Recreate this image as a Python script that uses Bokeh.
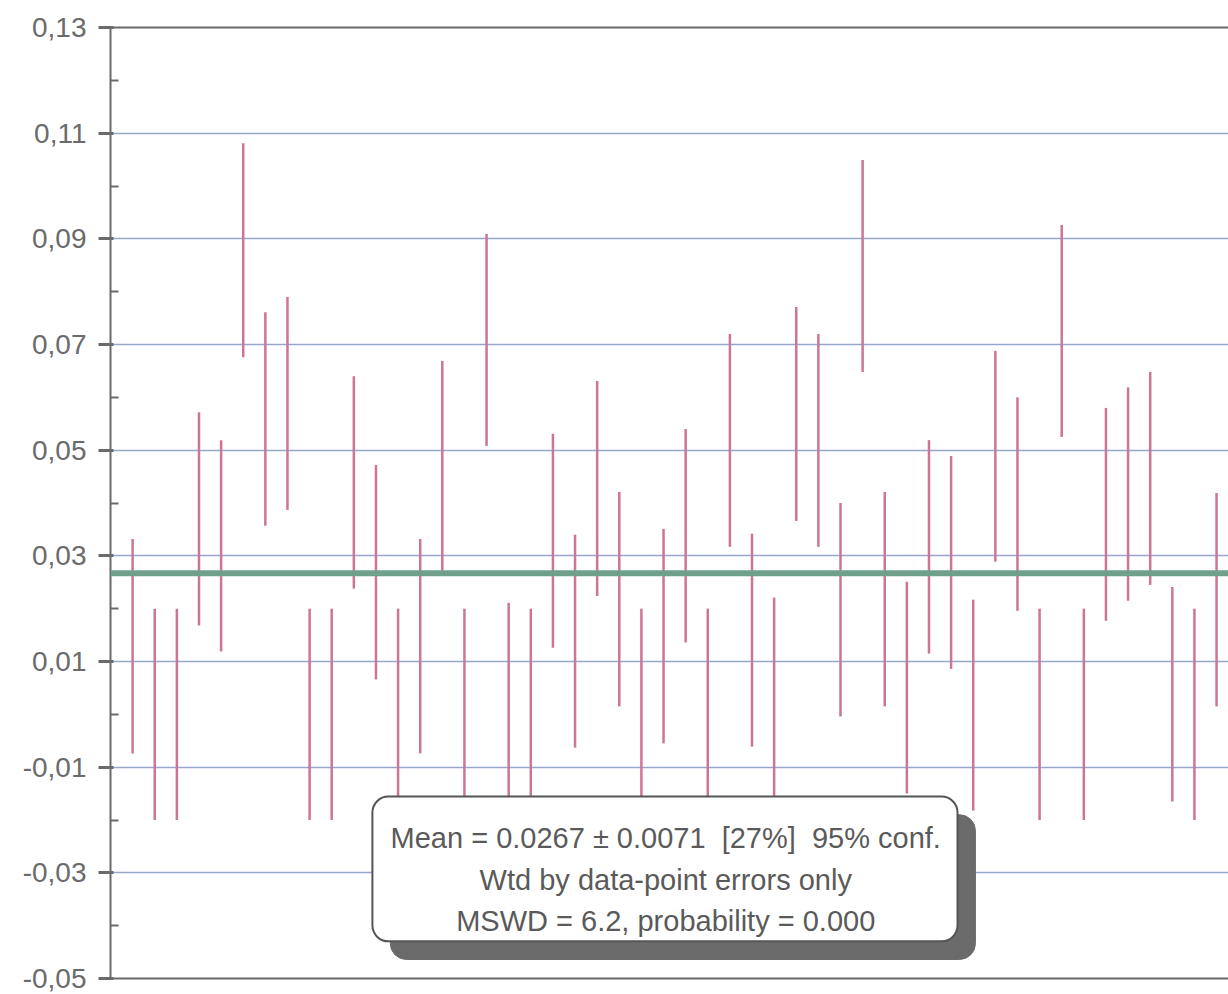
from bokeh.plotting import figure
from bokeh.models import Range1d, FixedTicker, LinearAxis, Span, CustomJSTickFormatter, ColumnDataSource
from bokeh.core.properties import value
from bokeh.embed import file_html
from bokeh.resources import INLINE

# ---- data ----
point_index = list(range(1, 51))
upper = [0.0332, 0.020, 0.020, 0.0572, 0.0519, 0.1081, 0.0761, 0.0790, 0.020, 0.020,
         0.0640, 0.0472, 0.020, 0.0332, 0.0669, 0.020, 0.0909, 0.0211, 0.020, 0.0531,
         0.0340, 0.0631, 0.0421, 0.020, 0.0351, 0.0540, 0.020, 0.0720, 0.0342, 0.0221,
         0.0771, 0.0720, 0.0400, 0.1049, 0.0421, 0.0251, 0.0519, 0.0489, 0.0217, 0.0688,
         0.0600, 0.020, 0.0926, 0.020, 0.0580, 0.0619, 0.0648, 0.0241, 0.020, 0.0419]
lower = [-0.0074, -0.020, -0.020, 0.0168, 0.0119, 0.0676, 0.0357, 0.0387, -0.020, -0.020,
         0.0238, 0.0066, -0.020, -0.0074, 0.0266, -0.020, 0.0508, -0.019, -0.020, 0.0126,
         -0.0063, 0.0224, 0.0015, -0.020, -0.0055, 0.0136, -0.020, 0.0317, -0.0061, -0.018,
         0.0366, 0.0317, -0.0004, 0.0648, 0.0015, -0.015, 0.0115, 0.0086, -0.0182, 0.0289,
         0.0196, -0.020, 0.0525, -0.020, 0.0177, 0.0215, 0.0245, -0.0165, -0.020, 0.0015]
mean_value = 0.0267
y_major_ticks = [-0.05, -0.03, -0.01, 0.01, 0.03, 0.05, 0.07, 0.09, 0.11, 0.13]
y_minor_ticks = [-0.04, -0.02, 0.0, 0.02, 0.04, 0.06, 0.08, 0.10, 0.12]
NB = "\u00a0"
box_lines = ["Mean = 0.0267 \u00b1 0.0071 " + NB + "[27%]" + NB + " 95% conf.",
             "Wtd by data-point errors only",
             "MSWD = 6.2, probability = 0.000"]

FONT = "Liberation Sans"
GRAY = "#5a5a5a"

p = figure(width=1228, height=994, output_backend="svg", toolbar_location=None,
           x_range=Range1d(0, 50.54), y_range=Range1d(-0.05, 0.13),
           min_border_left=110, min_border_right=0, min_border_top=27, min_border_bottom=16,
           background_fill_color="white", border_fill_color="white")
p.outline_line_color = None
p.xgrid.visible = False

# y axis
yax = p.yaxis[0]
yax.ticker = FixedTicker(ticks=y_major_ticks, minor_ticks=y_minor_ticks)
yax.formatter = CustomJSTickFormatter(code="return tick.toFixed(2).replace('.', ',');")
yax.axis_line_color = "#6a6a6a"
yax.axis_line_width = 2
yax.major_tick_line_color = "#6a6a6a"
yax.major_tick_line_width = 3
yax.major_tick_out = 12
yax.major_tick_in = 3
yax.minor_tick_line_color = "#6a6a6a"
yax.minor_tick_line_width = 2
yax.minor_tick_in = 8
yax.minor_tick_out = 0
yax.major_label_text_font = FONT
yax.major_label_text_font_size = "28px"
yax.major_label_text_color = "#6b6b6b"
yax.major_label_standoff = 12

# bottom axis as a plain line
xax = p.xaxis[0]
xax.ticker = FixedTicker(ticks=[])
xax.axis_line_color = "#6a6a6a"
xax.axis_line_width = 2
xax.major_tick_line_color = None
xax.minor_tick_line_color = None

# top border line
top = LinearAxis(ticker=FixedTicker(ticks=[]), axis_line_color="#6a6a6a", axis_line_width=2,
                 major_tick_line_color=None, minor_tick_line_color=None)
p.add_layout(top, "above")

p.ygrid.ticker = FixedTicker(ticks=y_major_ticks)
p.ygrid.grid_line_color = "#96a6cc"
p.ygrid.grid_line_width = 1.3

# error bars
src = ColumnDataSource(dict(x=point_index, lo=lower, hi=upper))
p.segment(x0="x", y0="lo", x1="x", y1="hi", source=src, line_color="#cc7597", line_width=2.5)

# weighted mean line
p.add_layout(Span(location=mean_value, dimension="width", line_color="#6ea08c", line_width=6))

# annotation box with shadow
p.quad(left=12.65, right=39.1, top=-0.0190, bottom=-0.0464, fill_color="#6b6b6b",
       line_color="#6b6b6b", border_radius=16)
p.quad(left=11.84, right=38.29, top=-0.01556, bottom=-0.04297, fill_color="white",
       line_color="#555555", line_width=2, border_radius=16)
p.text(x=[25.1] * 3, y=[-0.0235, -0.0314, -0.0392], text=box_lines,
       text_font=value(FONT), text_font_size="29px", text_color=GRAY,
       text_align="center", text_baseline="alphabetic")

open("out.html", "w").write(file_html(p, INLINE))
